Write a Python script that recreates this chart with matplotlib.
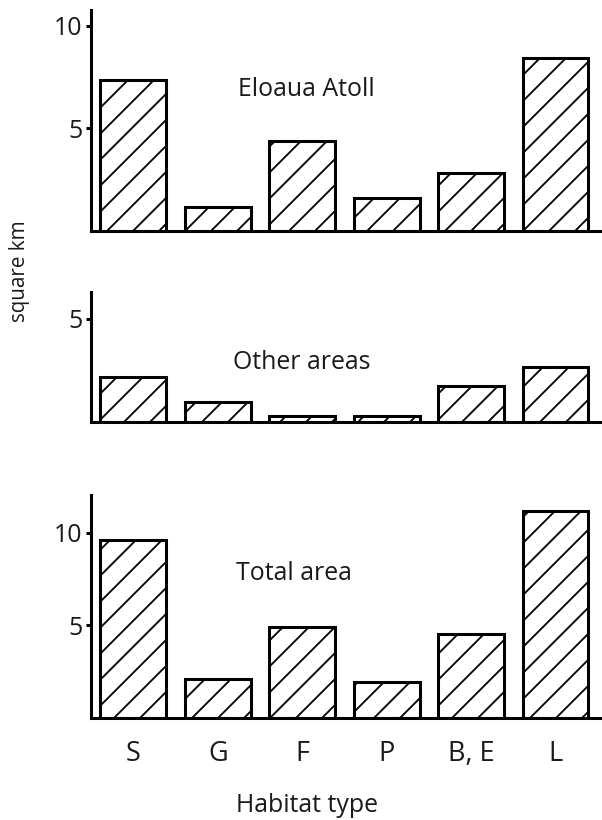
import numpy as np
import matplotlib
matplotlib.use('Agg')
import matplotlib.pyplot as plt

# habitat areas (square km)
habitats = ['S', 'G', 'F', 'P', 'B, E', 'L']
eloaua = [7.35, 1.15, 4.4, 1.6, 2.85, 8.45]
other = [2.2, 0.95, 0.3, 0.3, 1.75, 2.65]
total = [9.6, 2.1, 4.9, 1.95, 4.55, 11.2]

panel_names = ['Eloaua Atoll', 'Other areas', 'Total area']
panel_ticks = [[5, 10], [5], [5, 10]]

plt.rcParams['font.family'] = ['Open Sans', 'DejaVu Sans']
plt.rcParams['hatch.color'] = 'black'
plt.rcParams['hatch.linewidth'] = 0.85

DPI = 156
fig = plt.figure(figsize=(602.01 / DPI, 820.01 / DPI), dpi=DPI)
ink = '#1a1a1a'
lw = 1.4

# [left, bottom, width, height], ylim top, text position (x, y)
layout = [
    ([0.1512, 0.7183, 0.8488, 0.2695], 10.78, (2.05, 6.9)),
    ([0.1512, 0.4854, 0.8488, 0.1585], 6.3, (1.99, 2.86)),
    ([0.1512, 0.1244, 0.8488, 0.2720], 12.05, (1.9, 7.8)),
]
series = [eloaua, other, total]

x = np.arange(len(habitats))
for i, (rect, ytop, tpos) in enumerate(layout):
    ax = fig.add_axes(rect)
    ax.bar(x, series[i], width=0.78, facecolor='white', edgecolor='black',
           linewidth=lw, hatch='//', zorder=2)
    ax.set_xlim(-0.5, 5.55)
    ax.set_ylim(0, ytop)
    for s in ['top', 'right']:
        ax.spines[s].set_visible(False)
    for s in ['left', 'bottom']:
        ax.spines[s].set_linewidth(lw)
        ax.spines[s].set_color('black')
        ax.spines[s].set_zorder(3)
    ax.set_yticks(panel_ticks[i])
    ax.tick_params(axis='y', length=2.5, width=lw, pad=1.5, labelsize=11.5,
                   labelcolor=ink, color='black')
    if i == 2:
        ax.set_xticks(x)
        ax.set_xticklabels(habitats)
        ax.tick_params(axis='x', length=0, pad=10, labelsize=12.5, labelcolor=ink)
    else:
        ax.set_xticks([])
    ax.text(tpos[0], tpos[1], panel_names[i], ha='center', va='center',
            fontsize=11.5, color=ink)

fig.text(307 / 602, 1 - 805 / 820, 'Habitat type', ha='center', va='center',
         fontsize=11.5, color=ink)
fig.text(19 / 602, 1 - 271 / 820, 'square km', ha='center', va='center',
         rotation=90, fontsize=9.5, color=ink)

fig.savefig('out.png', dpi=DPI)
